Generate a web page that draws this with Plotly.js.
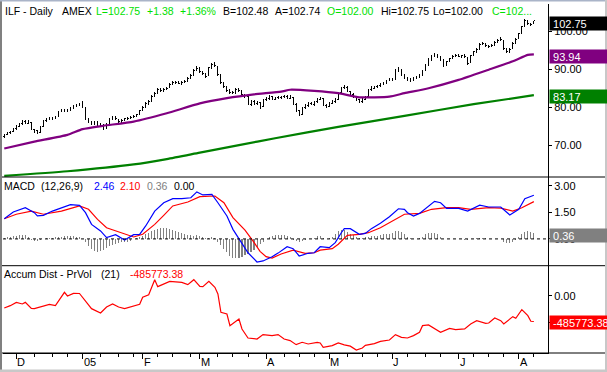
<!DOCTYPE html>
<html><head><meta charset="utf-8">
<script src="https://cdn.plot.ly/plotly-3.0.1.min.js"></script>
<style>html,body{margin:0;padding:0;background:#fff;overflow:hidden}
.ohlclayer path,.barlayer path{shape-rendering:crispEdges}</style>
</head><body><div id="chart" style="width:607px;height:372px"></div>
<script>
// ---- tick labels (bar index of first trading day of each month) ----
const monthTickIdx = [4,26,46,65,87,108,129,151,171];
const monthTickText = ['D','05','F','M','A','M','J','J','A'];
const weekTickIdx = [10,16,21,32,38,43,51,56,62,71,76,81,93,98,103,114,119,124,134,140,145,156,161,166,176];

// ---- daily price bars (Nov 24 2004 .. Aug 8 2005) ----
const priceOpen = [
72.3,72.8,73.2,73.6,74.3,75.0,75.6,76.3,75.8,76.0,
74.0,73.8,73.3,74.9,76.4,76.7,77.3,77.0,77.6,78.9,
79.3,78.9,79.4,79.7,80.3,80.4,80.9,79.8,76.8,76.1,
75.5,76.1,75.3,75.4,74.5,75.7,76.9,77.5,76.8,76.1,
76.6,76.9,77.1,77.4,77.7,78.2,79.1,80.1,81.0,81.7,
82.9,83.7,84.7,84.3,84.9,85.2,86.1,86.3,86.7,86.2,
86.6,86.9,87.7,88.5,89.9,90.4,89.3,88.8,88.4,90.5,
91.3,90.7,88.5,86.4,85.2,84.4,84.1,83.8,84.7,84.2,
83.3,82.7,80.7,81.5,80.9,81.2,80.2,81.9,82.3,82.8,
82.1,82.5,82.5,82.7,82.9,82.4,82.6,80.7,79.1,78.2,
79.9,80.4,81.1,80.7,81.4,82.1,82.2,80.5,80.3,81.1,
81.4,82.1,83.8,85.1,85.2,84.1,83.4,82.7,81.9,81.5,
82.1,82.8,84.7,85.0,85.4,85.7,86.0,86.5,87.1,87.5,
87.4,89.8,89.8,88.4,87.8,87.3,87.2,87.7,88.1,88.6,
89.8,91.2,92.6,93.5,93.7,93.1,92.4,91.2,92.1,92.9,
93.5,93.8,93.4,93.7,93.1,91.8,93.8,94.7,95.4,96.6,
96.7,96.1,96.1,96.5,97.3,97.7,97.6,95.4,94.7,95.5,
96.9,98.1,99.6,101.4,102.6,102.0,102.0];
const priceHigh = [
72.9,73.4,73.8,74.5,75.2,75.8,76.6,76.7,76.6,76.2,
74.3,74.0,75.0,76.5,77.1,77.5,77.5,77.7,79.1,79.6,
79.6,79.6,80.0,80.5,80.8,81.1,81.6,79.9,77.2,76.4,
76.3,76.3,75.9,75.6,75.8,77.2,77.8,77.7,77.0,76.8,
77.2,77.3,77.7,77.9,78.3,79.3,80.3,81.4,81.9,83.1,
84.0,85.0,85.0,85.1,85.4,86.3,86.8,87.0,87.0,86.8,
87.1,87.9,88.7,90.2,90.8,90.6,89.6,89.1,90.7,91.6,
91.8,90.9,88.7,86.7,85.5,84.7,84.4,85.0,85.0,84.5,
83.6,82.9,81.8,81.8,81.6,81.4,82.1,82.8,83.1,83.0,
82.8,83.0,83.0,83.2,83.2,83.3,82.8,81.0,79.3,80.1,
80.9,81.3,81.4,81.6,82.4,82.8,82.4,80.8,81.3,81.8,
82.3,83.9,85.4,85.8,85.5,84.4,83.7,83.0,82.2,82.3,
82.9,84.9,85.5,85.6,85.9,86.3,86.7,87.3,87.8,87.8,
90.0,90.6,90.0,88.7,88.1,87.6,87.9,88.3,88.7,89.9,
91.3,92.9,93.8,94.2,94.0,93.4,92.6,92.3,93.1,93.7,
94.0,94.1,93.9,94.0,93.3,93.9,94.9,95.7,96.9,97.2,
97.0,96.4,96.7,97.5,98.0,98.4,97.8,95.7,95.6,97.1,
98.2,99.7,101.5,103.3,102.9,102.3,102.75];
const priceLow = [
72.0,72.6,73.0,73.4,74.1,74.8,75.4,75.6,75.5,73.9,
73.2,72.9,73.1,74.7,76.1,76.5,76.7,76.8,77.4,78.7,
78.7,78.7,79.1,79.5,80.0,80.2,79.8,76.7,75.8,75.2,
75.2,75.1,75.0,74.0,74.3,75.5,76.6,76.7,75.9,75.9,
76.4,76.6,76.9,77.1,77.4,78.0,78.9,79.9,80.7,81.5,
82.7,83.5,84.1,84.0,84.6,85.0,85.8,86.0,86.0,85.9,
86.3,86.7,87.5,88.3,89.6,89.1,88.5,87.8,88.2,90.2,
90.6,88.3,86.2,85.0,83.9,83.6,83.5,83.6,84.0,83.0,
82.5,80.5,80.4,80.6,80.5,79.6,80.0,81.6,82.0,81.8,
81.8,82.2,82.2,82.4,82.2,82.1,80.5,78.8,77.6,78.0,
79.6,80.1,80.5,80.4,81.1,81.8,80.3,79.8,80.0,80.8,
81.1,81.9,83.6,84.8,83.9,83.1,82.4,81.6,81.0,81.2,
81.8,82.6,84.4,84.7,85.1,85.4,85.8,86.2,86.8,86.9,
87.2,89.4,88.3,87.5,87.0,86.7,86.9,87.4,87.8,88.3,
89.5,91.0,92.3,93.2,92.9,92.2,90.6,90.9,91.8,92.6,
93.2,93.2,93.1,93.0,91.2,91.6,93.5,94.4,95.2,96.3,
95.9,95.6,95.8,96.2,97.0,97.4,95.2,94.2,94.4,95.3,
96.7,97.9,99.4,101.2,101.6,101.3,102.0];
const priceClose = [
72.6,73.1,73.5,74.2,74.9,75.5,76.2,75.9,76.3,74.2,
73.7,73.2,74.8,76.3,76.8,77.2,77.0,77.4,78.8,79.2,
79.0,79.3,79.6,80.2,80.4,80.7,80.1,77.0,76.2,75.6,
76.0,75.4,75.6,74.4,75.5,76.8,77.4,77.0,76.2,76.5,
76.9,77.0,77.4,77.6,78.0,79.0,80.0,80.9,81.5,82.8,
83.6,84.6,84.4,84.8,85.0,86.0,86.4,86.6,86.3,86.5,
86.8,87.6,88.3,89.8,90.3,89.4,88.9,88.2,90.4,91.2,
91.0,88.7,86.6,85.4,84.3,84.0,83.9,84.6,84.3,83.4,
83.0,80.8,81.4,81.0,81.3,80.0,81.8,82.4,82.7,82.2,
82.4,82.6,82.6,82.8,82.5,82.9,80.9,79.2,78.0,79.8,
80.5,81.0,80.8,81.3,82.0,82.4,80.6,80.2,81.0,81.5,
81.9,83.6,85.0,85.3,84.2,83.5,82.8,82.0,81.4,82.0,
82.6,84.6,85.1,85.3,85.6,85.9,86.4,87.0,87.4,87.2,
89.7,90.0,88.6,87.9,87.4,87.1,87.6,88.0,88.4,89.6,
91.0,92.5,93.4,93.8,93.2,92.6,91.0,92.0,92.8,93.4,
93.7,93.5,93.6,93.3,91.6,93.6,94.6,95.3,96.5,96.8,
96.2,96.0,96.4,97.2,97.6,97.9,95.6,94.6,95.3,96.8,
97.9,99.4,101.2,102.8,102.1,101.8,102.75];

// ---- moving averages (read at sampled bars) ----
const maFastIdx = [0,10,21,26,33,43,54,65,74,83,92,95,103,111,118,128,133,141,151,161,169,174,176];
const maFastVal = [69.1,70.9,72.7,74.2,75.1,76.2,78.4,81.0,82.4,83.4,84.1,84.6,84.3,83.7,82.6,82.8,83.7,85.0,87.2,89.9,92.1,93.8,93.94];
const maSlowIdx = [0,21,43,54,65,78,90,111,133,156,176];
const maSlowVal = [61.9,63.1,64.9,66.3,68.0,70.0,71.8,74.8,77.7,80.8,83.17];

// ---- MACD (12,26,9) ----
const macdIdx = [0,3,7,10,11,13,16,20,22,25,27,29,32,34,37,40,43,45,47,50,53,56,59,62,64,66,69,71,74,76,78,81,84,86,89,91,94,96,98,101,103,105,108,110,112,113,115,118,120,122,125,128,131,133,134,136,138,141,143,145,147,151,154,158,161,165,168,171,173,176];
const macdVal = [1.14,1.52,1.76,1.48,1.30,1.33,1.57,1.82,1.93,1.89,1.48,0.82,0.45,0.07,0.24,-0.06,0.24,0.26,0.73,1.57,2.04,2.27,2.27,2.32,2.65,2.48,2.51,2.04,1.29,0.54,-0.02,-0.78,-1.30,-1.24,-1.00,-0.80,-0.44,-0.55,-0.96,-0.81,-0.78,-0.44,-0.49,-0.21,0.35,0.58,0.58,0.26,0.31,0.58,0.88,1.25,1.70,1.67,1.48,1.29,1.44,1.86,2.12,2.04,1.72,1.72,1.57,1.90,1.80,1.80,1.35,1.67,2.27,2.46];
const signalIdx = [0,4,9,13,19,25,28,31,34,39,43,46,50,53,56,61,65,70,73,76,80,83,85,87,89,92,96,100,103,105,109,111,114,118,121,125,129,133,138,142,147,151,155,161,165,169,172,176];
const signalVal = [1.14,1.39,1.57,1.39,1.57,1.86,1.67,1.10,0.63,0.35,0.11,0.26,0.82,1.33,1.86,2.08,2.38,2.42,2.04,1.20,0.50,-0.20,-0.70,-1.00,-1.08,-0.85,-0.63,-0.81,-0.78,-0.63,-0.55,-0.30,0.20,0.26,0.35,0.63,1.01,1.39,1.44,1.67,1.76,1.76,1.67,1.76,1.74,1.57,1.76,2.10];
const histVal = [
0.05,0.08,0.10,0.15,0.18,0.20,0.22,0.20,0.12,-0.05,
-0.12,-0.13,-0.08,0.02,0.05,0.06,0.05,0.08,0.10,0.13,
0.15,0.16,0.16,0.14,0.12,0.10,0.02,-0.20,-0.40,-0.55,
-0.70,-0.75,-0.70,-0.60,-0.50,-0.42,-0.35,-0.30,-0.25,-0.20,
-0.18,-0.15,-0.10,-0.02,0.03,0.08,0.18,0.28,0.35,0.42,
0.50,0.56,0.60,0.62,0.60,0.55,0.48,0.42,0.38,0.32,
0.26,0.22,0.20,0.18,0.20,0.15,0.08,0.06,0.05,0.08,
0.04,-0.15,-0.35,-0.55,-0.75,-0.95,-1.05,-1.10,-1.08,-1.00,
-0.90,-0.85,-0.75,-0.60,-0.45,-0.30,-0.15,0.02,0.12,0.18,
0.20,0.22,0.22,0.20,0.18,0.10,-0.05,-0.12,-0.15,-0.12,
-0.06,-0.02,0.02,0.05,0.14,0.15,0.05,0.02,0.04,0.10,
0.30,0.45,0.50,0.48,0.40,0.30,0.20,0.08,0.04,0.05,
0.08,0.12,0.14,0.16,0.18,0.22,0.25,0.28,0.30,0.35,
0.42,0.45,0.40,0.30,0.12,0.04,0.00,0.02,0.04,0.10,
0.25,0.32,0.36,0.34,0.25,0.10,0.02,-0.02,0.00,0.02,
0.00,0.02,0.00,-0.04,-0.06,-0.02,0.02,0.05,0.06,0.05,
0.03,0.02,0.02,0.00,0.00,-0.02,-0.15,-0.22,-0.22,-0.15,
-0.05,0.12,0.30,0.40,0.42,0.38,0.36];

// ---- Accumulation / Distribution (PrVol 21) ----
const adIdx = [0,2,4,6,7,9,10,12,15,17,19,20,21,23,25,27,29,32,34,36,38,40,43,45,46,48,49,50,51,53,55,59,61,63,65,66,68,70,71,72,74,75,76,78,79,81,84,86,89,91,93,95,97,99,101,104,105,106,109,111,113,115,117,119,120,123,125,128,130,132,134,136,138,139,141,143,145,148,150,153,155,157,160,161,163,165,166,169,170,172,174,175,176];
const adVal = [-229000,-184000,-121000,-152000,-121000,-235000,-241000,-209000,-159000,-184000,-25000,70000,0,50000,48000,-89000,-241000,-324000,-209000,-152000,-209000,-241000,-184000,-159000,-25000,25000,165000,311000,178000,229000,279000,260000,216000,311000,184000,178000,279000,165000,38000,-311000,-343000,-565000,-521000,-438000,-629000,-800000,-820000,-736000,-755000,-736000,-820000,-850000,-927000,-882000,-914000,-882000,-895000,-978000,-946000,-895000,-930000,-955000,-1029000,-990000,-940000,-908000,-864000,-838000,-736000,-787000,-800000,-755000,-692000,-565000,-552000,-628000,-692000,-616000,-641000,-628000,-534000,-470000,-521000,-514000,-420000,-470000,-534000,-393000,-425000,-260000,-375000,-482000,-485773.38];

const barIdx = priceClose.map((_, i) => i);
const FONT = 'Liberation Sans, Arial, sans-serif';
const GREEN_TXT = '#00e000';

const traces = [
  {type:'ohlc', x:barIdx, open:priceOpen, high:priceHigh, low:priceLow, close:priceClose,
   increasing:{line:{color:'#000',width:1}}, decreasing:{line:{color:'#000',width:1}},
   tickwidth:0.3, xaxis:'x', yaxis:'y', hoverinfo:'skip'},
  {type:'scatter', mode:'lines', x:maSlowIdx, y:maSlowVal, line:{color:'#008000',width:2.2,shape:'spline',smoothing:0.6}, xaxis:'x', yaxis:'y', hoverinfo:'skip'},
  {type:'scatter', mode:'lines', x:maFastIdx, y:maFastVal, line:{color:'#800080',width:2.2,shape:'spline',smoothing:0.5}, xaxis:'x', yaxis:'y', hoverinfo:'skip'},
  {type:'bar', x:barIdx, y:histVal, width:0.35, marker:{color:'#808080',line:{width:0}}, xaxis:'x', yaxis:'y2', hoverinfo:'skip'},
  {type:'scatter', mode:'lines', x:signalIdx, y:signalVal, line:{color:'#ff0000',width:1.2}, xaxis:'x', yaxis:'y2', hoverinfo:'skip'},
  {type:'scatter', mode:'lines', x:macdIdx, y:macdVal, line:{color:'#0000ff',width:1.2}, xaxis:'x', yaxis:'y2', hoverinfo:'skip'},
  {type:'scatter', mode:'lines', x:adIdx, y:adVal, line:{color:'#ff0000',width:1.2}, xaxis:'x', yaxis:'y3', hoverinfo:'skip'}
];

const yCommon = {side:'right', showline:true, linecolor:'#000', linewidth:1, ticks:'outside', ticklen:3,
  tickcolor:'#000', tickwidth:1, showgrid:false, zeroline:false, tickformat:'.2f',
  tickfont:{family:FONT,size:11,color:'#000'}, anchor:'x', fixedrange:true};

function px2x(px){ return (px-3)/545; }
function py2y(py){ return (353-py)/349; }

function txt(text, px, py, color, size){
  return {text:text, xref:'paper', yref:'paper', x:px2x(px), y:py2y(py), xanchor:'left', yanchor:'middle',
    showarrow:false, borderpad:0, font:{family:FONT,size:size,color:color}};
}
function box(text, py, bg){
  return {text:'\u00a0'+text, xref:'paper', yref:'paper', x:px2x(549), y:py2y(py), xanchor:'left', yanchor:'middle',
    showarrow:false, borderpad:0, width:58, height:13, align:'left', bgcolor:bg,
    font:{family:FONT,size:11,color:'#fff'}};
}

const annotations = [
  txt('ILF - Daily',4,11.5,'#000',10.5),
  txt('AMEX',61,11.5,'#000',10.5),
  txt('L=102.75',95,11.5,GREEN_TXT,10.5),
  txt('+1.38',146,11.5,GREEN_TXT,10.5),
  txt('+1.36%',179,11.5,GREEN_TXT,10.5),
  txt('B=102.48',222,11.5,'#000',10.5),
  txt('A=102.74',274,11.5,'#000',10.5),
  txt('O=102.00',326,11.5,GREEN_TXT,10.5),
  txt('Hi=102.75',380,11.5,'#000',10.5),
  txt('Lo=102.00',432,11.5,'#000',10.5),
  txt('C=102...',491,11.5,GREEN_TXT,10.5),
  txt('MACD',3.3,186.5,'#000',10.5),
  txt('(12,26,9)',40,186.5,'#000',10.5),
  txt('2.46',92.7,186.5,'#0000ff',10.5),
  txt('2.10',119.3,186.5,'#ff0000',10.5),
  txt('0.36',146,186.5,'#808080',10.5),
  txt('0.00',172.7,186.5,'#000',10.5),
  txt('Accum Dist - PrVol',3.3,273.7,'#000',10.5),
  txt('(21)',100,273.7,'#000',10.5),
  txt('-485773.38',129.3,273.7,'#ff0000',10.5),
  box('102.75',23,'#000000'),
  box('93.94',56,'#800080'),
  box('83.17',96.7,'#008000'),
  box('0.36',235,'#808080'),
  box('-485773.38',322,'#ff0000')
];
// month labels on the time axis, left-aligned at each month tick
monthTickIdx.forEach((v, k) => {
  annotations.push({text:monthTickText[k], xref:'x', yref:'paper', x:v, y:py2y(362), xanchor:'left', yanchor:'middle',
    showarrow:false, borderpad:0, font:{family:FONT,size:11,color:'#000'}});
});

const shapes = [
  {type:'line', xref:'paper', yref:'paper', x0:px2x(0), x1:px2x(607), y0:py2y(177), y1:py2y(177), line:{color:'#000',width:1}},
  {type:'line', xref:'paper', yref:'paper', x0:px2x(0), x1:px2x(607), y0:py2y(265.7), y1:py2y(265.7), line:{color:'#000',width:1}},
  {type:'line', xref:'paper', yref:'paper', x0:px2x(2), x1:px2x(607), y0:0, y1:0, line:{color:'#000',width:1}},
  {type:'line', xref:'paper', yref:'y2', x0:0, x1:1, y0:0, y1:0, line:{color:'#000',width:1,dash:'dot'}},
  // window frame
  {type:'rect', xref:'paper', yref:'paper', x0:px2x(0), x1:px2x(2), y0:py2y(372), y1:py2y(0), fillcolor:'#808080', line:{width:0}},
  {type:'rect', xref:'paper', yref:'paper', x0:px2x(0), x1:px2x(607), y0:py2y(1.5), y1:py2y(0), fillcolor:'#aab4c8', line:{width:0}},
  {type:'rect', xref:'paper', yref:'paper', x0:px2x(605), x1:px2x(607), y0:py2y(372), y1:py2y(0), fillcolor:'#c8c8c8', line:{width:0}},
  {type:'rect', xref:'paper', yref:'paper', x0:px2x(0), x1:px2x(607), y0:py2y(372), y1:py2y(369.5), fillcolor:'#c8c8c8', line:{width:0}}
];

const layout = {
  width:607, height:372, autosize:false,
  margin:{l:3, r:59, t:4, b:19, pad:0},
  paper_bgcolor:'#fff', plot_bgcolor:'#fff', showlegend:false, bargap:0,
  xaxis:{range:[-0.42,180.7], anchor:'y3', showline:true, linecolor:'#000', linewidth:1,
    ticks:'outside', ticklen:5, tickcolor:'#000', tickwidth:1,
    tickmode:'array', tickvals:monthTickIdx, ticktext:monthTickText, showticklabels:false,
    minor:{tickmode:'array', tickvals:weekTickIdx, ticks:'outside', ticklen:3, tickcolor:'#000', tickwidth:1, showgrid:false},
    showgrid:false, zeroline:false, rangeslider:{visible:false}, fixedrange:true},
  yaxis:Object.assign({}, yCommon, {domain:[0.5043,1], range:[61.58,107.23], tickvals:[70,80,90,100]}),
  yaxis2:Object.assign({}, yCommon, {domain:[0.2501,0.5043], range:[-1.51,3.49], tickvals:[0,1.5,3]}),
  yaxis3:Object.assign({}, yCommon, {domain:[0,0.2501], range:[-1086000,577000], tickvals:[-500000,0]}),
  annotations:annotations, shapes:shapes
};

Plotly.newPlot('chart', traces, layout, {staticPlot:true, displayModeBar:false});
</script>
</body></html>
